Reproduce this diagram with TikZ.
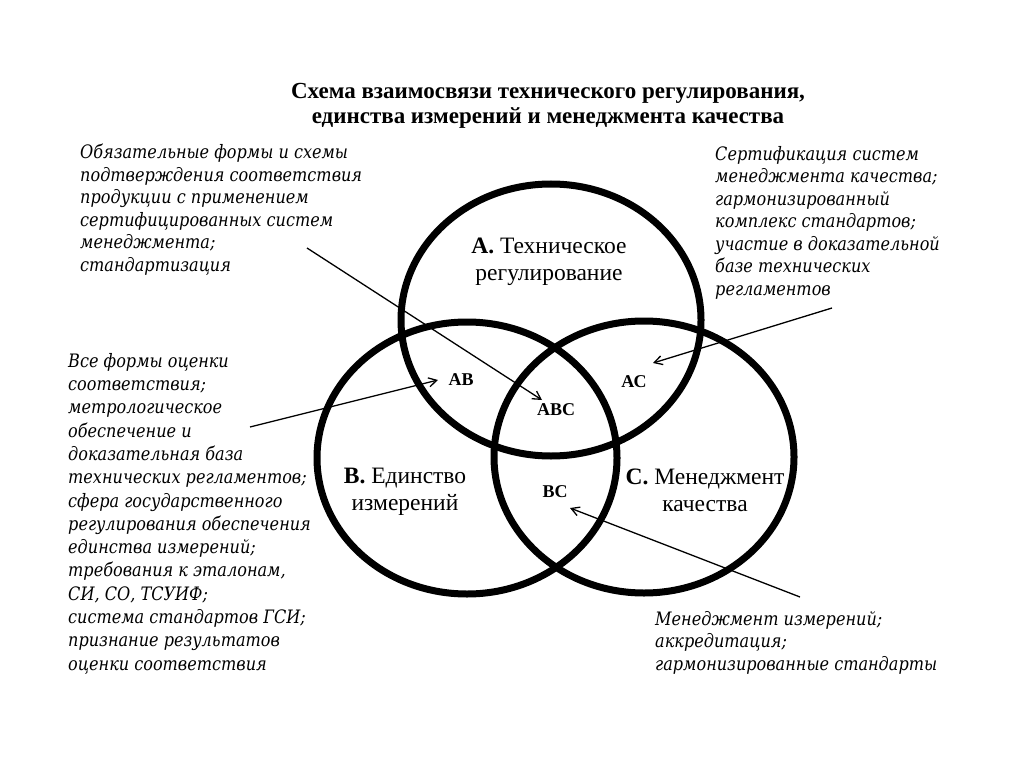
\documentclass[tikz,border=0pt]{standalone}
\usepackage{fontspec}
\setmainfont{Liberation Serif}
\newfontfamily\annfont{DejaVu Serif}[FakeStretch=0.87]
\usetikzlibrary{shapes.geometric,arrows.meta}
\begin{document}
\begin{tikzpicture}[x=1pt,y=-1pt,
  venn/.style={ellipse,draw,line width=7pt,minimum width=300pt,minimum height=272pt,inner sep=0pt},
  ann/.style={font=\annfont\itshape\fontsize{18.5}{22.5}\selectfont,align=left,anchor=north west,inner sep=0pt},
  lbl/.style={font=\fontsize{23.5}{27}\selectfont,align=center,inner sep=0pt},
  pair/.style={font=\bfseries\fontsize{18}{20}\selectfont,inner sep=0pt},
  ttl/.style={font=\bfseries\fontsize{23}{24.5}\selectfont,align=center,inner sep=0pt},
  arr/.style={-{Straight Barb[length=8pt,width=9pt]},line width=1.3pt}]
\useasboundingbox[fill=white] (0,0) rectangle (1024,767);

\node[ttl] (title) at (548,106) {Схема взаимосвязи технического регулирования,\\единства измерений и менеджмента качества};

\node[venn] (A) at (551,320) {};
\node[venn] (B) at (467,458) {};
\node[venn] (C) at (644,457) {};

\node[lbl] (Alab) at (549,262) {\textbf{А.} Техническое\\регулирование};
\node[lbl] (Blab) at (405,492) {\textbf{В.} Единство\\измерений};
\node[lbl] (Clab) at (705,490) {\textbf{С.} Менеджмент\\качества};

\node[pair] (AB) at (461,380) {АВ};
\node[pair] (ABC) at (556,410) {АВС};
\node[pair] (AC) at (634,382) {АС};
\node[pair] (BC) at (555,492) {ВС};

\node[ann] (t1) at (80,144) {Обязательные формы и схемы\\подтверждения соответствия\\продукции с применением\\сертифицированных систем\\менеджмента;\\стандартизация};
\node[ann] (t2) at (715,146) {Сертификация систем\\менеджмента качества;\\гармонизированный\\комплекс стандартов;\\участие в доказательной\\базе технических\\регламентов};
\node[ann,font=\annfont\itshape\fontsize{18.5}{23.3}\selectfont] (t3) at (68,353) {Все формы оценки\\соответствия;\\метрологическое\\обеспечение и\\доказательная база\\технических регламентов;\\сфера государственного\\регулирования обеспечения\\единства измерений;\\требования к эталонам,\\СИ, СО, ТСУИФ;\\система стандартов ГСИ;\\признание результатов\\оценки соответствия};
\node[ann] (t4) at (655,611) {Менеджмент измерений;\\аккредитация;\\гармонизированные стандарты};

\coordinate (s1) at (307,248);
\coordinate (e1) at (542,400);
\coordinate (s2) at (250,427);
\coordinate (e2) at (438,380);
\coordinate (s3) at (832,308);
\coordinate (e3) at (653,363);
\coordinate (s4) at (800,597);
\coordinate (e4) at (570,508);
\draw[arr] (s1) -- (e1);
\draw[arr] (s2) -- (e2);
\draw[arr] (s3) -- (e3);
\draw[arr] (s4) -- (e4);
\end{tikzpicture}
\end{document}
